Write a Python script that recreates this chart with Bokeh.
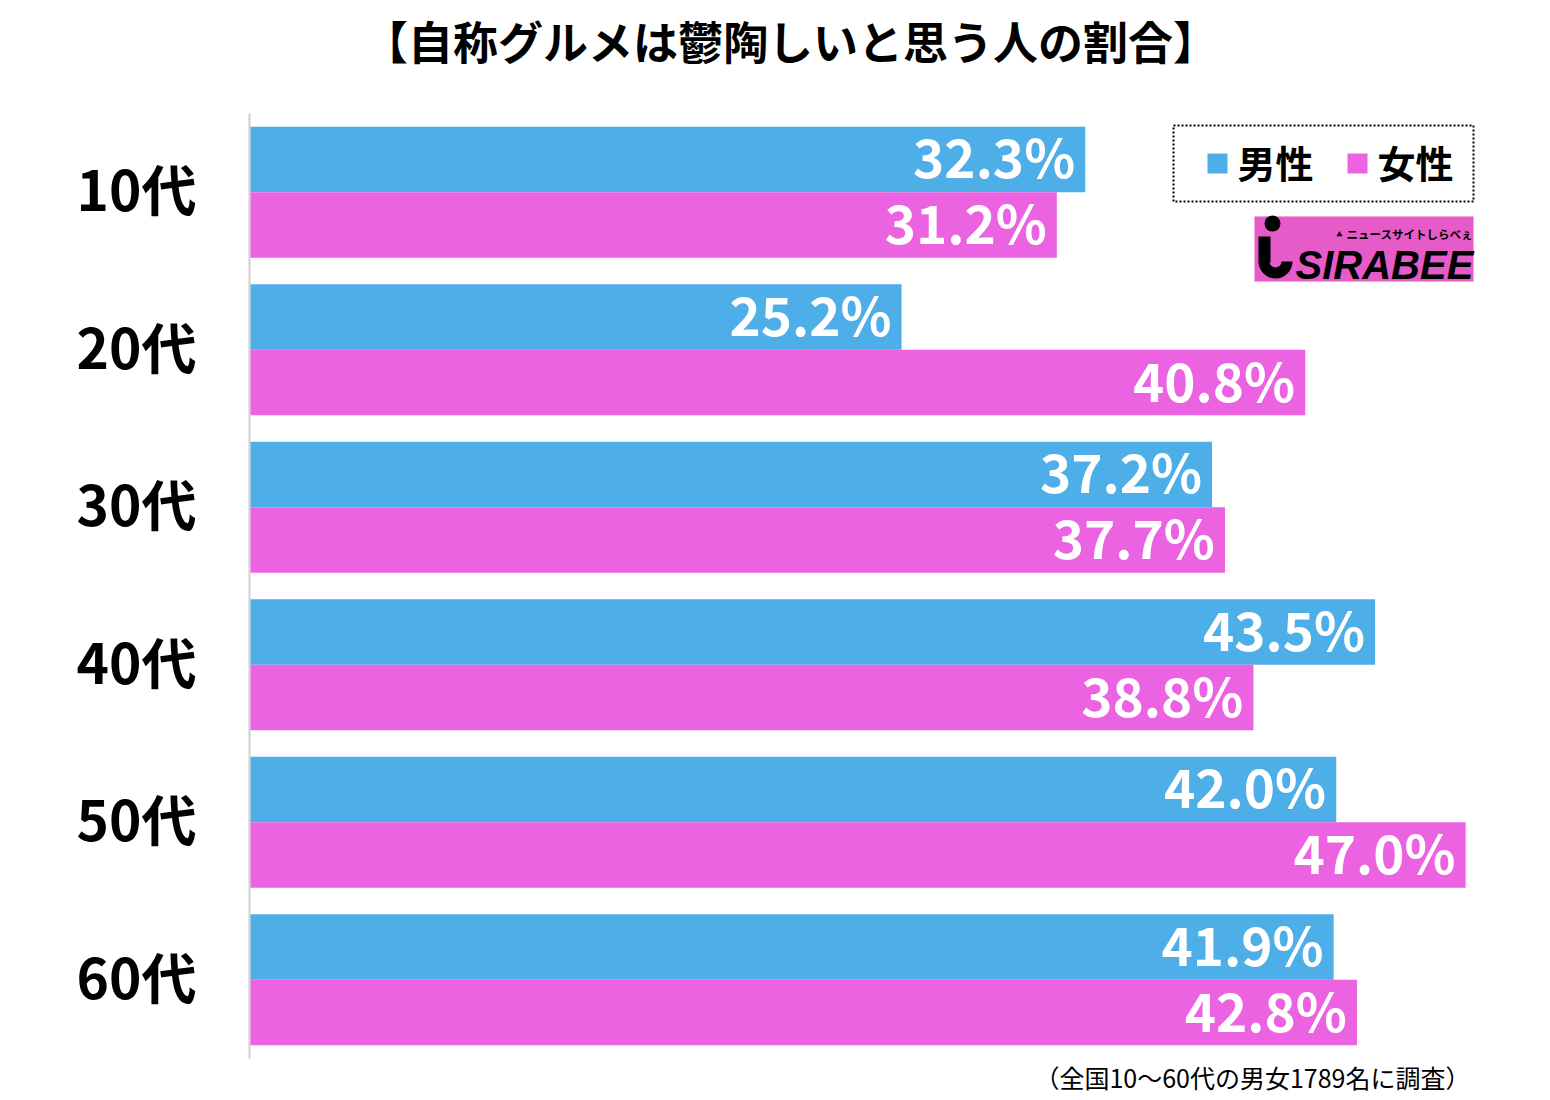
import math
from bokeh.plotting import figure
from bokeh.models import Range1d, ColumnDataSource
from bokeh.core.properties import value
from bokeh.embed import file_html
from bokeh.resources import INLINE

title_text = "【自称グルメは鬱陶しいと思う人の割合】"
categories = ["10代", "20代", "30代", "40代", "50代", "60代"]
male = [32.3, 25.2, 37.2, 43.5, 42.0, 41.9]
female = [31.2, 40.8, 37.7, 38.8, 47.0, 42.8]
series_names = ["男性", "女性"]
footnote = "（全国10〜60代の男女1789名に調査）"

BLUE = "#4DAEE8"
PINK = "#EB63E0"
FONT = "Noto Sans CJK JP"

W, H = 1534, 1094
X0, XS = 249.0, 25.875      # pixel of value 0, pixels per percent
Y0, YS = 113.0, 157.5       # top of first group, pixels per group

def dx(px):
    return (px - X0) / XS

def dy(py):
    return (py - Y0) / YS - 0.5

p = figure(width=W, height=H, output_backend="svg", toolbar_location=None,
           x_range=Range1d(dx(0), dx(W)), y_range=Range1d(dy(H), dy(0)),
           min_border=0, min_border_left=0, min_border_right=0,
           min_border_top=0, min_border_bottom=0)
p.outline_line_color = None
p.grid.grid_line_color = None
p.xaxis.visible = False
p.yaxis.visible = False
p.background_fill_color = "white"

n = len(categories)
idx = list(range(n))

# axis line
p.segment(x0=[0], y0=[-0.5], x1=[0], y1=[n - 0.5], line_color="#cfcfcf", line_width=2)

bh = 0.416
lab_off = -4 / YS
src_m = ColumnDataSource(dict(y=[i - bh / 2 for i in idx], right=male,
                              lab=[f"{v:.1f}%" for v in male], lx=[v - 0.39 for v in male],
                              ly=[i - bh / 2 + lab_off for i in idx]))
src_f = ColumnDataSource(dict(y=[i + bh / 2 for i in idx], right=female,
                              lab=[f"{v:.1f}%" for v in female], lx=[v - 0.39 for v in female],
                              ly=[i + bh / 2 + lab_off for i in idx]))
p.hbar(y="y", right="right", left=0.04, height=bh, source=src_m, fill_color=BLUE, line_color=None)
p.hbar(y="y", right="right", left=0.04, height=bh, source=src_f, fill_color=PINK, line_color=None)
for s in (src_m, src_f):
    p.text(x="lx", y="ly", text="lab", source=s, text_align="right", text_baseline="middle",
           text_color="white", text_font=value(FONT), text_font_style="bold",
           text_font_size="53px")

# category labels
p.text(x=[dx(196)] * n, y=[i - 5 / YS for i in idx], text=categories, text_align="right",
       text_baseline="middle", text_color="black", text_font=value(FONT),
       text_font_style="bold", text_font_size="55px")

# legend box
p.quad(left=dx(1173), right=dx(1473), top=dy(125), bottom=dy(201), fill_color="white",
       line_color="black", line_width=2, line_dash="2 2")
p.scatter(x=[dx(1217), dx(1357)], y=[dy(163), dy(163)], marker="square", size=20,
          fill_color=[BLUE, PINK], line_color=None)
p.text(x=[dx(1237), dx(1377)], y=[dy(161), dy(161)], text=series_names, text_align="left",
       text_baseline="middle", text_color="black", text_font=value(FONT),
       text_font_style="bold", text_font_size="38px")

# logo
p.quad(left=dx(1254), right=dx(1473), top=dy(216), bottom=dy(281), fill_color="#E65BC8",
       line_color=None)
p.scatter(x=[dx(1272)], y=[dy(223)], marker="circle", size=16, fill_color="black", line_color=None)
p.quad(left=dx(1258), right=dx(1270), top=dy(236), bottom=dy(262), fill_color="black", line_color=None)
p.annular_wedge(x=[dx(1275)], y=[dy(261)], inner_radius=6, outer_radius=17,
                inner_radius_units="screen", outer_radius_units="screen",
                start_angle=math.pi, end_angle=2 * math.pi, direction="anticlock",
                fill_color="black", line_color=None)
p.text(x=[dx(1295)], y=[dy(264)], text=["SIRABEE"], text_align="left", text_baseline="middle",
       text_color="black", text_font=value("Liberation Sans"), text_font_style="bold italic",
       text_font_size="40px")
p.scatter(x=[dx(1339)], y=[dy(234)], marker="triangle", size=6, fill_color="black", line_color=None)
p.text(x=[dx(1346)], y=[dy(233)], text=["ニュースサイトしらべぇ"], text_align="left",
       text_baseline="middle", text_color="black", text_font=value(FONT),
       text_font_style="bold", text_font_size="11.5px")

# title and footnote
p.text(x=[dx(790)], y=[dy(40)], text=[title_text], text_align="center",
       text_baseline="middle", text_font=value(FONT), text_font_style="bold",
       text_font_size="45px", text_color="black")
p.text(x=[dx(1470)], y=[dy(1076)], text=[footnote], text_align="right",
       text_baseline="middle", text_font=value(FONT), text_font_size="25px",
       text_color="black")

open("out.html", "w").write(file_html(p, INLINE))
